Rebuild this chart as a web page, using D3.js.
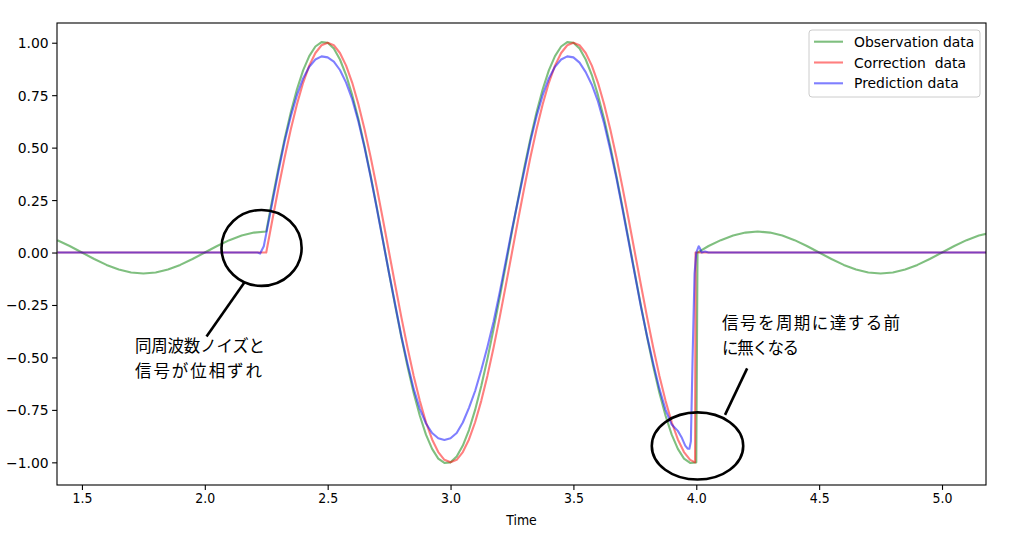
<!DOCTYPE html>
<html>
<head>
<meta charset="utf-8">
<script src="https://cdn.jsdelivr.net/npm/d3@7"></script>
<style>
  body { margin: 0; background: #fff; }
  svg { display: block; }
  .tick text { font-family: "DejaVu Sans", sans-serif; font-size: 13.9px; fill: #000; }
  .xaxis .tick text { font-family: "DejaVu Sans Condensed", "DejaVu Sans", sans-serif; font-stretch: condensed; }
  .note { font-family: "Noto Sans CJK JP", sans-serif; font-size: 16.5px; fill: #000; }
  .legend text { font-family: "DejaVu Sans", sans-serif; font-size: 13.9px; white-space: pre; }
</style>
</head>
<body>
<svg id="chart" width="1016" height="534"></svg>
<script>
// observation data (green)
var obsTime = [1.40,1.45,1.50,1.55,1.60,1.65,1.70,1.75,1.80,1.85,1.90,1.95,2.00,2.05,2.10,2.15,2.20,
  2.25,2.275,2.30,2.325,2.35,2.375,2.40,2.425,2.45,2.475,
  2.50,2.525,2.55,2.575,2.60,2.625,2.65,2.675,2.70,2.725,
  2.75,2.775,2.80,2.825,2.85,2.875,2.90,2.925,2.95,2.975,
  3.00,3.025,3.05,3.075,3.10,3.125,3.15,3.175,3.20,3.225,
  3.25,3.275,3.30,3.325,3.35,3.375,3.40,3.425,3.45,3.475,
  3.50,3.525,3.55,3.575,3.60,3.625,3.65,3.675,3.70,3.725,
  3.75,3.775,3.80,3.825,3.85,3.875,3.90,3.925,3.95,3.975,
  4.00,4.005,
  4.05,4.10,4.15,4.20,4.25,4.30,4.35,4.40,4.45,4.50,4.55,4.60,4.65,4.70,4.75,4.80,4.85,4.90,4.95,5.00,5.05,5.10,5.15,5.20];
var obsValue = [0.059,0.031,0,-0.031,-0.059,-0.081,-0.095,-0.100,-0.095,-0.081,-0.059,-0.031,0,0.031,0.059,0.081,0.095,
  0.100,0.255,0.404,0.543,0.669,0.778,0.868,0.936,0.982,1.003,
  1.000,0.972,0.920,0.846,0.750,0.636,0.507,0.365,0.214,0.058,
  -0.100,-0.255,-0.404,-0.543,-0.669,-0.778,-0.868,-0.936,-0.982,-1.003,
  -1.000,-0.972,-0.920,-0.846,-0.750,-0.636,-0.507,-0.365,-0.214,-0.058,
  0.100,0.255,0.404,0.543,0.669,0.778,0.868,0.936,0.982,1.003,
  1.000,0.972,0.920,0.846,0.750,0.636,0.507,0.365,0.214,0.058,
  -0.100,-0.255,-0.404,-0.543,-0.669,-0.778,-0.868,-0.936,-0.982,-1.003,
  -1.000,0,
  0.031,0.059,0.081,0.095,0.100,0.095,0.081,0.059,0.031,0,-0.031,-0.059,-0.081,-0.095,-0.100,-0.095,-0.081,-0.059,-0.031,0,0.031,0.059,0.081,0.095];

// correction data (red)
var corrTime = [1.40,
  2.25,2.275,2.30,2.325,2.35,2.375,2.40,2.425,2.45,2.475,
  2.50,2.525,2.55,2.575,2.60,2.625,2.65,2.675,2.70,2.725,
  2.75,2.775,2.80,2.825,2.85,2.875,2.90,2.925,2.95,2.975,
  3.00,3.025,3.05,3.075,3.10,3.125,3.15,3.175,3.20,3.225,
  3.25,3.275,3.30,3.325,3.35,3.375,3.40,3.425,3.45,3.475,
  3.50,3.525,3.55,3.575,3.60,3.625,3.65,3.675,3.70,3.725,
  3.75,3.775,3.80,3.825,3.85,3.875,3.90,3.925,3.95,3.975,
  3.995,3.997,5.20];
var corrValue = [0,
  0,0.156,0.309,0.454,0.588,0.707,0.809,0.891,0.951,0.988,
  1,0.988,0.951,0.891,0.809,0.707,0.588,0.454,0.309,0.156,
  0,-0.156,-0.309,-0.454,-0.588,-0.707,-0.809,-0.891,-0.951,-0.988,
  -1,-0.988,-0.951,-0.891,-0.809,-0.707,-0.588,-0.454,-0.309,-0.156,
  0,0.156,0.309,0.454,0.588,0.707,0.809,0.891,0.951,0.988,
  1,0.988,0.951,0.891,0.809,0.707,0.588,0.454,0.309,0.156,
  0,-0.156,-0.309,-0.454,-0.588,-0.707,-0.809,-0.891,-0.951,-0.988,
  -1,0,0];

// prediction data (blue)
var predTime = [1.40,2.215,2.225,2.24,2.25,
  2.275,2.30,2.325,2.35,2.375,2.40,2.425,2.45,2.475,
  2.50,2.525,2.55,2.575,2.60,2.625,2.65,2.675,2.70,2.725,
  2.75,2.775,2.80,2.825,2.85,2.875,2.90,2.925,2.95,2.975,
  3.00,3.025,3.05,3.075,3.10,3.125,3.15,3.175,3.20,3.225,
  3.25,3.275,3.30,3.325,3.35,3.375,3.40,3.425,3.45,3.475,
  3.50,3.525,3.55,3.575,3.60,3.625,3.65,3.675,3.70,3.725,
  3.75,3.775,3.80,3.825,3.85,3.875,3.90,3.925,
  3.94,3.955,3.965,3.972,3.978,3.985,3.993,4.00,4.01,4.015,4.022,4.035,4.05,5.20];
var predValue = [0,0,-0.005,0.03,0.09,
  0.24,0.39,0.53,0.65,0.75,0.83,0.885,0.92,0.935,
  0.93,0.91,0.87,0.81,0.73,0.625,0.50,0.36,0.21,0.055,
  -0.10,-0.25,-0.40,-0.53,-0.65,-0.745,-0.815,-0.86,-0.885,-0.893,
  -0.885,-0.86,-0.81,-0.74,-0.66,-0.56,-0.45,-0.33,-0.19,-0.04,
  0.11,0.25,0.39,0.53,0.65,0.75,0.83,0.885,0.92,0.935,
  0.93,0.905,0.86,0.80,0.72,0.615,0.49,0.355,0.205,0.05,
  -0.105,-0.26,-0.40,-0.53,-0.65,-0.75,-0.82,-0.85,
  -0.88,-0.92,-0.935,-0.935,-0.90,-0.50,-0.10,0.0,0.03,0.02,0.0,0.005,0,0];

var xTicks = [1.5,2.0,2.5,3.0,3.5,4.0,4.5,5.0];
var yTicks = [-1.00,-0.75,-0.50,-0.25,0.00,0.25,0.50,0.75,1.00];
var seriesNames = ["Observation data", "Correction  data", "Prediction data"];
var seriesColors = ["#008000", "#ff0000", "#0000ff"];

// annotations: ellipse centre / radii in data units, text position, pointer line
var noteEllipses = [
  {cx: 2.231, cy: 0.022, rx: 0.163, ry: 0.181},
  {cx: 4.005, cy: -0.922, rx: 0.186, ry: 0.160}
];
var noteLines = [
  {x1: 2.007, y1: -0.40, x2: 2.161, y2: -0.143},
  {x1: 4.117, y1: -0.774, x2: 4.207, y2: -0.552}
];
var noteTexts = [
  {x: 1.716, y: -0.474, lines: ["同周波数ノイズと", "信号が位相ずれ"]},
  {x: 4.105, y: -0.363, lines: ["信号を周期に達する前", "に無くなる"]}
];
// rendered width of each annotation line, px
var noteWidths = [[130, 127], [178, 77]];

var margin = {top: 23, right: 30, bottom: 49, left: 57},
    width = 1016 - margin.left - margin.right,
    height = 534 - margin.top - margin.bottom;

var svg = d3.select("#chart");
var g = svg.append("g").attr("transform", "translate(" + margin.left + "," + margin.top + ")");

var x = d3.scaleLinear().domain([1.3985, 5.179]).range([0, width]);
var y = d3.scaleLinear().domain([-1.108, 1.094]).range([height, 0]);

svg.append("defs").append("clipPath").attr("id", "clip")
  .append("rect").attr("width", width).attr("height", height);

var series = [
  {t: obsTime, v: obsValue},
  {t: corrTime, v: corrValue},
  {t: predTime, v: predValue}
];

var line = d3.line()
  .x(function (d) { return x(d[0]); })
  .y(function (d) { return y(d[1]); });

var plot = g.append("g").attr("clip-path", "url(#clip)");
series.forEach(function (s, i) {
  plot.append("path")
    .datum(d3.zip(s.t, s.v))
    .attr("d", line)
    .attr("fill", "none")
    .attr("stroke", seriesColors[i])
    .attr("stroke-opacity", 0.5)
    .attr("stroke-width", 2.1)
    .attr("stroke-linejoin", "round");
});

// annotations
g.selectAll(".note-ellipse").data(noteEllipses).enter().append("ellipse")
  .attr("cx", function (d) { return x(d.cx); })
  .attr("cy", function (d) { return y(d.cy); })
  .attr("rx", function (d) { return x(d.cx + d.rx) - x(d.cx); })
  .attr("ry", function (d) { return y(d.cy - d.ry) - y(d.cy); })
  .attr("fill", "none").attr("stroke", "#000").attr("stroke-width", 2.6);

g.selectAll(".note-line").data(noteLines).enter().append("line")
  .attr("x1", function (d) { return x(d.x1); })
  .attr("y1", function (d) { return y(d.y1); })
  .attr("x2", function (d) { return x(d.x2); })
  .attr("y2", function (d) { return y(d.y2); })
  .attr("stroke", "#000").attr("stroke-width", 2.6);

noteTexts.forEach(function (n, k) {
  var t = g.append("text").attr("class", "note")
    .attr("x", x(n.x)).attr("y", y(n.y));
  n.lines.forEach(function (s, i) {
    t.append("tspan").attr("x", x(n.x)).attr("dy", i === 0 ? 0 : 25)
      .attr("textLength", noteWidths[k][i]).attr("lengthAdjust", "spacing")
      .text(s);
  });
});

// axes
var xAxis = g.append("g").attr("class", "xaxis")
  .attr("transform", "translate(0," + height + ")")
  .call(d3.axisBottom(x).tickValues(xTicks).tickFormat(d3.format(".1f")).tickSize(4.9).tickPadding(3.5));
var yAxis = g.append("g").attr("class", "yaxis")
  .call(d3.axisLeft(y).tickValues(yTicks).tickFormat(d3.format(".2f")).tickSize(4.9).tickPadding(3.5));
[xAxis, yAxis].forEach(function (a) {
  a.select(".domain").remove();
  a.selectAll(".tick line").attr("stroke", "#000").attr("stroke-width", 1.1);
});
yAxis.selectAll(".tick text").attr("dy", "0.36em");

g.append("rect").attr("width", width).attr("height", height)
  .attr("fill", "none").attr("stroke", "#000").attr("stroke-width", 1.1);

g.append("text")
  .attr("x", width / 2).attr("y", height + 40)
  .attr("text-anchor", "middle")
  .style("font-family", "'DejaVu Sans Condensed', 'DejaVu Sans', sans-serif")
  .style("font-stretch", "condensed")
  .style("font-size", "13.9px")
  .text("Time");

// legend
var legend = g.append("g").attr("class", "legend").attr("transform", "translate(" + (809 - margin.left) + "," + (30 - margin.top) + ")");
legend.append("rect")
  .attr("width", 171).attr("height", 67).attr("rx", 3)
  .attr("fill", "#fff").attr("fill-opacity", 0.8)
  .attr("stroke", "#cccccc").attr("stroke-width", 1);
seriesNames.forEach(function (name, i) {
  var row = legend.append("g").attr("transform", "translate(0," + (11.7 + i * 20.8) + ")");
  row.append("line").attr("x1", 5).attr("x2", 34)
    .attr("stroke", seriesColors[i]).attr("stroke-opacity", 0.5).attr("stroke-width", 2.1);
  row.append("text").attr("x", 45).attr("dy", "0.36em").text(name);
});
</script>
</body>
</html>
